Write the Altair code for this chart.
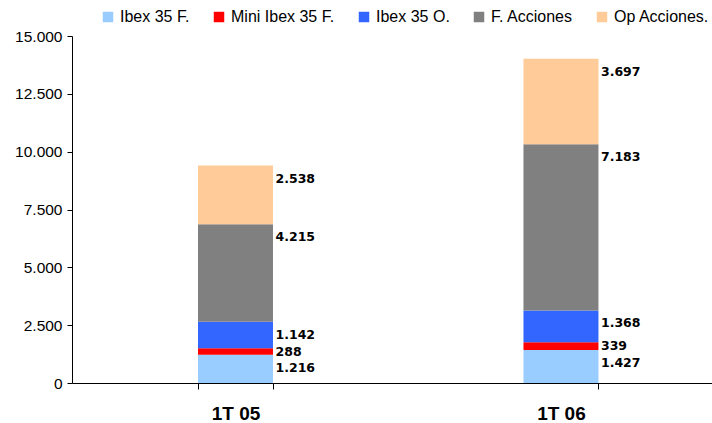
import altair as alt
import pandas as pd

categories = ["1T 05", "1T 06"]
series = ["Ibex 35 F.", "Mini Ibex 35 F.", "Ibex 35 O.", "F. Acciones", "Op Acciones."]
colors = ["#99CCFF", "#FF0000", "#3366FF", "#808080", "#FFCC99"]
values_1T05 = [1216, 288, 1142, 4215, 2538]
values_1T06 = [1427, 339, 1368, 7183, 3697]

rows = []
for cat, vals in zip(categories, [values_1T05, values_1T06]):
    base = 0
    for i, (s, v) in enumerate(zip(series, vals)):
        end = base + v
        mid = (base + end) / 2
        rows.append({
            "cat": cat, "series": s, "idx": i, "value": v,
            "y0": base, "y1": end,
            "ylab": max(mid, end - 560),
            "label": f"{v:,}".replace(",", "."),
        })
        base = end
df = pd.DataFrame(rows)

xscale = alt.Scale(domain=categories, paddingInner=0.7696, paddingOuter=0.368, align=0.526)

bars = alt.Chart(df).mark_bar().encode(
    x=alt.X("cat:N", scale=xscale, sort=categories,
            axis=alt.Axis(title=None, labelAngle=0, tickBand="extent", tickSize=6,
                          labelPadding=15, labelFont="Liberation Sans", labelFontSize=19,
                          labelFontWeight="bold", labelColor="black",
                          domainColor="black", tickColor="black", grid=False)),
    y=alt.Y("y0:Q", scale=alt.Scale(domain=[0, 15000], nice=False),
            axis=alt.Axis(title=None, values=[0, 2500, 5000, 7500, 10000, 12500, 15000],
                          labelExpr="replace(format(datum.value, ','), /,/g, '.')",
                          tickSize=5, labelPadding=5, labelFont="Liberation Sans",
                          labelFontSize=15.5, labelColor="black", domainColor="black",
                          tickColor="black", grid=False)),
    y2="y1:Q",
    color=alt.Color("series:N", scale=alt.Scale(domain=series, range=colors),
                    legend=alt.Legend(title=None, orient="none", direction="horizontal",
                                      legendX=28, legendY=-27, padding=0,
                                      symbolType="square", symbolSize=110,
                                      symbolStrokeWidth=0, symbolOpacity=1,
                                      labelFont="Liberation Sans", labelFontSize=16,
                                      labelColor="black", labelOffset=4,
                                      columnPadding=21)),
)

labels = alt.Chart(df).mark_text(
    align="left", baseline="middle", dx=40, font="DejaVu Sans",
    fontSize=12.5, fontWeight="bold", color="black"
).encode(
    x=alt.X("cat:N", scale=xscale, sort=categories),
    y=alt.Y("ylab:Q"),
    text="label:N",
)

chart = alt.layer(bars, labels).properties(
    width=640, height=347,
    autosize=alt.AutoSizeParams(type="none"),
    padding={"left": 72, "top": 36, "right": 0, "bottom": 40},
    background="white",
).configure_view(stroke=None)

chart.save("out.html", embed_options={"renderer": "svg", "actions": False})
